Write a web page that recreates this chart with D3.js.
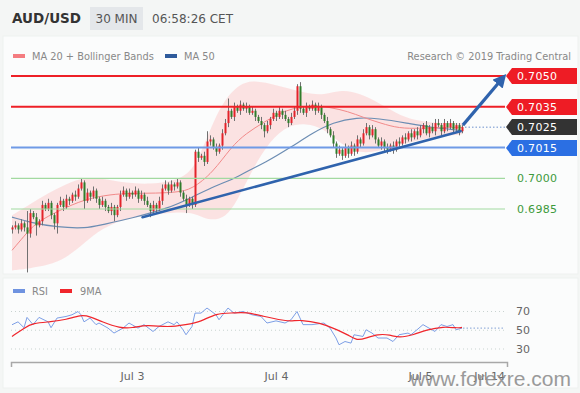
<!DOCTYPE html>
<html lang="en">
<head>
<meta charset="UTF-8" />
<title>AUD/USD 30 MIN</title>
<script src="https://cdn.jsdelivr.net/npm/d3@7"></script>
<style>
  body { margin: 0; background: #f4f6f5; }
  svg { display: block; font-family: "DejaVu Sans", sans-serif; }
</style>
</head>
<body>
<svg id="chart" width="580" height="393"></svg>
<script>
// ---- data ----
// 30 min candles, first one Jul 2 04:00 CET; open = previous close
var closes = [
  0.6976,0.6977,0.6975,0.6978,0.6976, 0.6973,0.6983,0.6981,0.6977,0.6979,
  0.6987,0.6985,0.6988,0.6982,0.6978, 0.6987,0.6989,0.6986,0.6990,0.6989,
  0.6992,0.6991,0.6995,0.6998,0.6989, 0.6993,0.6991,0.6994,0.6990,0.6987,
  0.6989,0.6986,0.6984,0.6986,0.6982, 0.6986,0.6992,0.6994,0.6991,0.6993,
  0.6992,0.6994,0.6990,0.6992,0.6989, 0.6987,0.6984,0.6987,0.6985,0.6989,
  0.6995,0.6997,0.6994,0.6997,0.6996, 0.6998,0.6993,0.6990,0.6987,0.6990,
  0.6987,0.7013,0.7010,0.7011,0.7008, 0.7018,0.7019,0.7015,0.7013,0.7016,
  0.7022,0.7027,0.7033,0.7030,0.7035, 0.7033,0.7036,0.7034,0.7035,0.7032,
  0.7033,0.7030,0.7028,0.7026,0.7023, 0.7026,0.7029,0.7032,0.7030,0.7033,
  0.7031,0.7029,0.7027,0.7030,0.7033, 0.7045,0.7034,0.7032,0.7035,0.7034,
  0.7036,0.7033,0.7035,0.7031,0.7028, 0.7024,0.7021,0.7017,0.7012,0.7014,
  0.7011,0.7015,0.7012,0.7016,0.7013, 0.7019,0.7017,0.7022,0.7025,0.7021,
  0.7024,0.7019,0.7016,0.7018,0.7015, 0.7014,0.7016,0.7014,0.7018,0.7017,
  0.7020,0.7019,0.7022,0.7020,0.7023, 0.7021,0.7024,0.7026,0.7022,0.7025,
  0.7023,0.7027,0.7026,0.7023,0.7027, 0.7025,0.7027,0.7024,0.7026,0.7023,
  0.7025
];
var firstOpen = 0.6975;
// wick lengths in pips above / below the body
var wickHi = [
  1,2,1,2,1, 8,2,1,2,1, 2,1,2,1,1, 1,2,1,2,1,
  1,2,2,2,1, 2,1,2,1,1, 2,1,1,2,1, 1,2,2,1,2,
  1,2,1,2,1, 2,1,2,1,2, 2,2,1,2,1, 2,1,1,2,1,
  1,1,2,1,2, 5,2,1,2,1, 2,2,6,1,2, 1,2,1,2,1,
  2,1,1,2,1, 2,1,2,1,2, 1,2,1,2,2, 1,2,1,2,1,
  2,1,2,1,1, 2,1,2,1,2, 1,2,1,2,1, 2,1,2,2,1,
  2,1,1,2,1, 2,1,2,1,2, 1,2,1,2,1, 2,2,1,2,1,
  2,2,2,1,2, 1,2,1,1,1, 1
];
var wickLo = [
  2,1,2,1,2, 19,2,1,5,1, 2,1,1,2,3, 5,1,2,1,2,
  1,2,1,1,4, 1,2,1,2,2, 1,2,1,2,3, 1,2,1,2,1,
  2,1,2,1,2, 1,3,1,2,1, 2,1,2,1,2, 1,2,1,4,1,
  2,1,2,1,2, 1,2,1,2,1, 2,1,2,1,2, 1,2,1,2,1,
  1,2,1,2,3, 1,2,1,2,1, 2,1,2,1,1, 2,2,1,2,1,
  1,2,1,2,1, 2,1,2,2,1, 2,1,2,1,2, 1,2,1,1,2,
  1,2,1,2,2, 2,1,2,1,2, 1,2,1,2,1, 2,1,2,1,2,
  1,2,1,2,1, 2,1,2,1,2, 1
];

var ma20Idx = [0,4,8,16,24,33,40,48,55,60,67,73,78,84,89,95,100,106,112,117,123,129,136,145,150];
var ma20 = [0.69648,0.69717,0.69785,0.69844,0.69897,0.69922,0.69927,0.69927,0.69932,0.69946,0.70029,0.70152,
            0.70220,0.70274,0.70318,0.70347,0.70357,0.70347,0.70327,0.70298,0.70269,0.70244,0.70244,0.70249,0.70249];

var ma50Idx = [0,6,15,25,29,40,52,60,68,73,79,84,93,100,107,115,122,132,139,149,150];
var ma50 = [0.69810,0.69785,0.69760,0.69756,0.69770,0.69805,0.69853,0.69907,0.69966,0.69990,0.70040,0.70073,
            0.70152,0.70220,0.70274,0.70298,0.70293,0.70269,0.70250,0.70235,0.70233];

var bandIdx = [0,6,12,18,24,30,38,46,54,60,64,68,72,76,80,86,92,98,104,110,116,122,128,134,142,150];
var bandUp = [0.69819,0.69873,0.69927,0.69971,0.70005,0.70000,0.69976,0.69971,0.69985,0.70029,0.70161,0.70308,
              0.70406,0.70459,0.70479,0.70464,0.70440,0.70415,0.70406,0.70435,0.70415,0.70371,0.70318,0.70283,0.70269,0.70269];
var bandLo = [0.69550,0.69560,0.69575,0.69609,0.69682,0.69756,0.69804,0.69819,0.69834,0.69834,0.69804,0.69795,
              0.69819,0.69917,0.70039,0.70186,0.70259,0.70269,0.70244,0.70161,0.70122,0.70132,0.70156,0.70181,0.70205,0.70215];

var rsiIdx = [0,2,4,5,7,9,12,13,15,18,20,22,23,24,26,28,29,32,34,37,39,42,44,47,49,52,54,55,57,58,60,61,63,65,
              68,69,72,74,77,80,83,85,88,91,93,95,97,100,104,106,108,109,111,113,114,117,118,120,122,125,127,129,
              132,133,135,137,139,141,143,145,147,148,150];
var rsi = [55.9,59,52.7,63.7,56,63.7,59,52.7,63,64.7,66.5,70,66.5,59,63,56,57.7,52.3,47,52.3,57.7,52.3,56,48.7,54,59,56,59,
           50.5,45.2,54,68.3,68.3,73.7,66.5,61.2,73.7,68.3,70,66.5,64.7,57.7,60,57.7,61.2,70,56,56,57.7,52.3,41.7,34.5,38,
           36.3,45.2,43.4,50.5,47,41.7,41.7,38,45.2,47,45.2,50.5,56,52.3,48.7,56,54,56,50.5,52.3];

var rsiMaIdx = [0,4,7,13,18,23,26,30,36,40,45,52,58,63,68,74,78,84,89,93,96,103,107,112,115,118,122,126,129,134,138,144,148,150];
var rsiMa = [43.4,52.3,57.7,59,61.2,66.5,64.7,59,52.3,52.3,56,53,56,59,68.3,68.3,69.4,64.7,61.2,59.4,61.2,57.7,52.3,45.2,
             38.8,41.7,46,45.2,41.7,45.2,50.5,54,52.3,53];

var levels = [0.7050, 0.7035, 0.7025, 0.7015, 0.7000, 0.6985];
var levelKinds = ["res", "res", "last", "sup", "minor", "minor"];
var rsiLevels = [70, 50, 30];

// trend line and projection arrow: [candle index, price]
var trendFrom = [43.5, 0.6981], trendTo = [149.5, 0.7023];
var arrowFrom = [150.3, 0.7026], arrowTo = [163.3, 0.70485];

var tickDates = [new Date(2019,6,3), new Date(2019,6,4), new Date(2019,6,5), new Date(2019,6,5,11,30)];
var tickLabels = ["Jul 3", "Jul 4", "Jul 5", "Jul 14"];

// ---- chart ----
var t0 = new Date(2019, 6, 2, 4, 0);
function tAt(i) { return new Date(+t0 + i * 30 * 60000); }

var svg = d3.select("#chart");

var x = d3.scaleTime()
  .domain([new Date(2019,6,2,3,50), new Date(2019,6,5,14,30)])
  .range([11, 507]);
var y = d3.scaleLinear().domain([0.6985, 0.7050]).range([209, 76]);
var yr = d3.scaleLinear().domain([30, 70]).range([349, 311.5]);
var pip = 0.0001;

// panels
svg.append("rect").attr("x", 3).attr("y", 36).attr("width", 575).attr("height", 238)
  .attr("fill", "#fbfcfc").attr("stroke", "#eef1f0");
svg.append("rect").attr("x", 3).attr("y", 278).attr("width", 575).attr("height", 110)
  .attr("fill", "#fbfcfc").attr("stroke", "#eef1f0");

// header
svg.append("text").attr("x", 12).attr("y", 23).attr("font-size", 13.5).attr("font-weight", "bold")
  .attr("fill", "#333").text("AUD/USD");
svg.append("rect").attr("x", 90).attr("y", 7).attr("width", 53).attr("height", 23).attr("fill", "#e4e7ea");
svg.append("text").attr("x", 116.5).attr("y", 23).attr("font-size", 12).attr("text-anchor", "middle")
  .attr("fill", "#555").text("30 MIN");
svg.append("text").attr("x", 152).attr("y", 23).attr("font-size", 12).attr("fill", "#555").text("06:58:26 CET");

// legend
svg.append("rect").attr("x", 13).attr("y", 54).attr("width", 12).attr("height", 4).attr("fill", "#f47c80");
svg.append("text").attr("x", 32).attr("y", 60).attr("font-size", 9.8).attr("fill", "#888").text("MA 20 + Bollinger Bands");
svg.append("rect").attr("x", 165).attr("y", 54).attr("width", 12).attr("height", 4).attr("fill", "#2f5b9c");
svg.append("text").attr("x", 184).attr("y", 60).attr("font-size", 9.8).attr("fill", "#888").text("MA 50");
svg.append("text").attr("x", 571).attr("y", 60).attr("font-size", 9.8).attr("fill", "#888")
  .attr("text-anchor", "end").text("Research \u00a9 2019 Trading Central");

// bollinger band
var bandData = bandIdx.map(function(d, i) { return { t: tAt(d), up: bandUp[i], lo: bandLo[i] }; });
svg.append("path").datum(bandData)
  .attr("d", d3.area().curve(d3.curveBasis)
    .x(function(d) { return x(d.t); })
    .y0(function(d) { return y(d.lo); })
    .y1(function(d) { return y(d.up); }))
  .attr("fill", "#fbd0d0").attr("opacity", 0.6);

// moving averages
function lineOf(idx, vals, sc) {
  return d3.line().curve(d3.curveBasis)
    .x(function(d) { return x(tAt(d)); })
    .y(function(d, i) { return sc(vals[i]); })(idx);
}
svg.append("path").attr("d", lineOf(ma50Idx, ma50, y)).attr("fill", "none")
  .attr("stroke", "#6c8db3").attr("stroke-width", 1.2);
svg.append("path").attr("d", lineOf(ma20Idx, ma20, y)).attr("fill", "none")
  .attr("stroke", "#f28a8a").attr("stroke-width", 1);

// candles
var candles = closes.map(function(c, i) {
  var o = i === 0 ? firstOpen : closes[i - 1];
  return { t: tAt(i), o: o, c: c,
           h: Math.max(o, c) + wickHi[i] * pip,
           l: Math.min(o, c) - wickLo[i] * pip };
});
var cg = svg.append("g");
cg.selectAll("line").data(candles).enter().append("line")
  .attr("x1", function(d) { return Math.round(x(d.t)) + 0.5; })
  .attr("x2", function(d) { return Math.round(x(d.t)) + 0.5; })
  .attr("y1", function(d) { return y(d.h); })
  .attr("y2", function(d) { return y(d.l); })
  .attr("stroke", "#707070").attr("stroke-width", 1);
cg.selectAll("rect").data(candles).enter().append("rect")
  .attr("x", function(d) { return Math.round(x(d.t)) - 0.5; })
  .attr("width", 2)
  .attr("y", function(d) { return y(Math.max(d.o, d.c)); })
  .attr("height", function(d) { return Math.max(1, Math.abs(y(d.o) - y(d.c))); })
  .attr("fill", function(d) { return d.c >= d.o ? "#e3232a" : "#2f7d2a"; });

// horizontal levels
var lineStyle = {
  res:   { stroke: "#ee2027", w: 2, dash: null },
  last:  { stroke: "#9bb3dc", w: 1.5, dash: "1.5,2" },
  sup:   { stroke: "#6f9ae6", w: 2, dash: null },
  minor: { stroke: "#a2d9a0", w: 1.2, dash: null }
};
levels.forEach(function(v, i) {
  var k = levelKinds[i], s = lineStyle[k];
  svg.append("line")
    .attr("x1", k === "last" ? 465 : 11).attr("x2", 505)
    .attr("y1", y(v)).attr("y2", y(v))
    .attr("stroke", s.stroke).attr("stroke-width", s.w)
    .attr("stroke-dasharray", s.dash);
});

// trend line
svg.append("line")
  .attr("x1", x(tAt(trendFrom[0]))).attr("y1", y(trendFrom[1]))
  .attr("x2", x(tAt(trendTo[0]))).attr("y2", y(trendTo[1]))
  .attr("stroke", "#2f63ad").attr("stroke-width", 2.6).attr("stroke-linecap", "round");

// arrow
svg.append("defs").append("marker").attr("id", "head")
  .attr("viewBox", "0 0 10 10").attr("refX", 5).attr("refY", 5)
  .attr("markerWidth", 4.2).attr("markerHeight", 4.2).attr("orient", "auto")
  .append("path").attr("d", "M0,0 L10,5 L0,10 Z").attr("fill", "#2f63ad");
svg.append("line")
  .attr("x1", x(tAt(arrowFrom[0]))).attr("y1", y(arrowFrom[1]))
  .attr("x2", x(tAt(arrowTo[0]))).attr("y2", y(arrowTo[1]))
  .attr("stroke", "#2f63ad").attr("stroke-width", 3.2)
  .attr("marker-end", "url(#head)");

// level tags
var tagFill = { res: "#ee1c25", last: "#333333", sup: "#2b6fe3" };
levels.forEach(function(v, i) {
  var k = levelKinds[i], yc = Math.round(y(v));
  if (tagFill[k]) {
    svg.append("path")
      .attr("d", "M506," + yc + "L512," + (yc - 8) + "H577V" + (yc + 8) + "H512Z")
      .attr("fill", tagFill[k]);
  }
  svg.append("text").attr("x", 517).attr("y", yc).attr("dy", "0.36em")
    .attr("font-size", 11).attr("letter-spacing", 0.3)
    .attr("fill", tagFill[k] ? "#fff" : "#3d9a3b").text(v.toFixed(4));
});

// ---- RSI panel ----
svg.append("rect").attr("x", 13).attr("y", 289).attr("width", 12).attr("height", 4).attr("fill", "#6f93e0");
svg.append("text").attr("x", 32).attr("y", 295).attr("font-size", 9.8).attr("fill", "#888").text("RSI");
svg.append("rect").attr("x", 60).attr("y", 289).attr("width", 12).attr("height", 4).attr("fill", "#f0262c");
svg.append("text").attr("x", 80).attr("y", 295).attr("font-size", 9.8).attr("fill", "#888").text("9MA");

rsiLevels.forEach(function(v) {
  svg.append("line").attr("x1", 11).attr("x2", 505).attr("y1", yr(v)).attr("y2", yr(v))
    .attr("stroke", "#c9d3d0").attr("stroke-width", 1).attr("stroke-dasharray", "1,3");
  svg.append("text").attr("x", 516).attr("y", yr(v)).attr("dy", "0.36em")
    .attr("font-size", 11).attr("fill", "#666").text(v);
});
svg.append("line").attr("x1", 463).attr("x2", 505)
  .attr("y1", yr(rsi[rsi.length - 1])).attr("y2", yr(rsi[rsi.length - 1]))
  .attr("stroke", "#9bb3dc").attr("stroke-width", 1.2).attr("stroke-dasharray", "1.5,2");

svg.append("path")
  .attr("d", d3.line().x(function(d) { return x(tAt(d)); })
    .y(function(d, i) { return yr(rsi[i]); })(rsiIdx))
  .attr("fill", "none").attr("stroke", "#7d9fe6").attr("stroke-width", 1);
svg.append("path").attr("d", lineOf(rsiMaIdx, rsiMa, yr))
  .attr("fill", "none").attr("stroke", "#f0262c").attr("stroke-width", 1.2);

// time axis
var ax = svg.append("g").attr("transform", "translate(0,362)")
  .call(d3.axisBottom(x).tickValues(tickDates)
    .tickFormat(function(d, i) { return tickLabels[i]; })
    .tickSizeInner(0).tickSizeOuter(5).tickPadding(10));
ax.select(".domain").attr("stroke", "#a8a8a8").attr("stroke-width", 1.5);
ax.selectAll("text").attr("font-family", "DejaVu Sans").attr("font-size", 11).attr("fill", "#666");

// watermark
svg.append("text").attr("x", 571).attr("y", 386).attr("text-anchor", "end")
  .attr("font-family", "Liberation Sans, Arial, sans-serif").attr("font-size", 21)
  .attr("fill", "#8a8a8a").attr("opacity", 0.85).text("www.forexre.com");
</script>
</body>
</html>
